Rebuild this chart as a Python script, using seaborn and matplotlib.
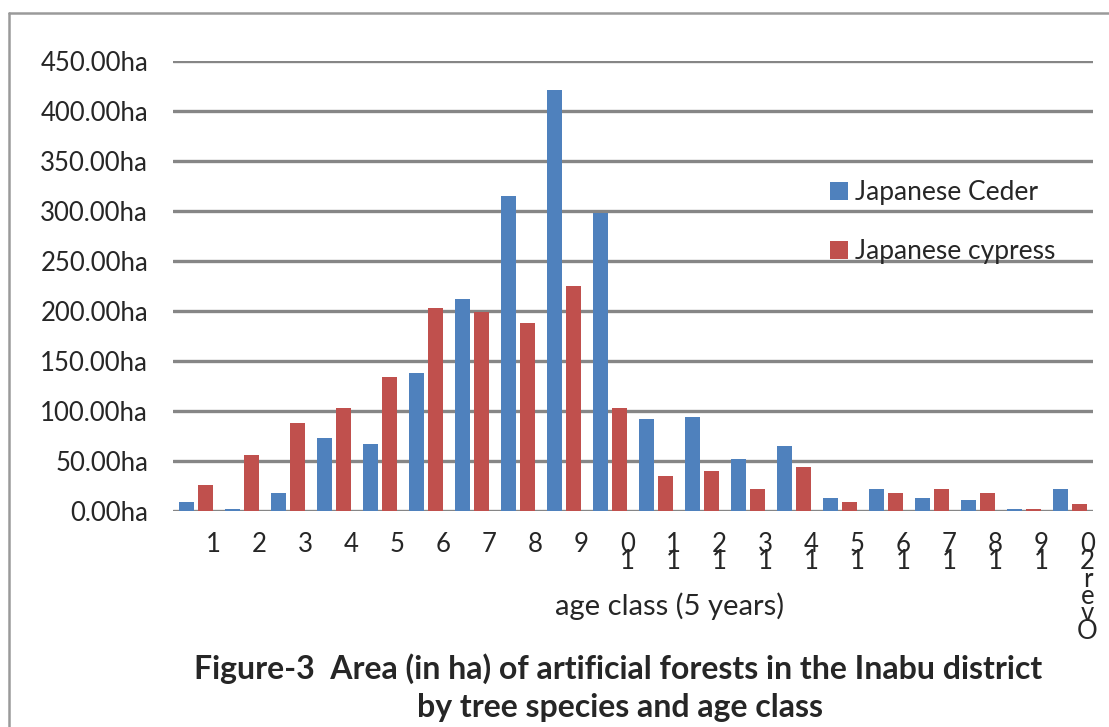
import numpy as np
import pandas as pd
import matplotlib
matplotlib.use("Agg")
import matplotlib.pyplot as plt
import seaborn as sns
from matplotlib.lines import Line2D
from matplotlib.ticker import FuncFormatter

# Data
age_classes = [str(i) for i in range(1, 20)] + ["Over20"]
ceder = [9, 2, 18, 73, 67, 138, 212, 315, 421, 298, 92, 94, 52, 65, 13, 22, 13, 11, 2, 22]
cypress = [26, 56, 88, 103, 134, 203, 199, 188, 225, 103, 35, 40, 22, 44, 9, 18, 22, 18, 2, 7]
species = ["Japanese Ceder", "Japanese cypress"]
colors = ["#4F81BD", "#C0504D"]

df = pd.DataFrame({
    "age": age_classes * 2,
    "species": [species[0]] * len(ceder) + [species[1]] * len(cypress),
    "area": ceder + cypress,
})

sns.set_style("white")
plt.rcParams["font.family"] = ["Lato", "DejaVu Sans"]

W, H = 1109, 727
fig = plt.figure(figsize=(W / 100, H / 100), dpi=100)
ax = fig.add_axes([173 / W, (H - 511) / H, (1093 - 173) / W, 450 / H])

sns.barplot(data=df, x="age", y="area", hue="species", order=age_classes,
            hue_order=species, palette=colors, saturation=1, width=0.84,
            gap=0.22, ax=ax, legend=True, edgecolor="none")

ax.set_ylim(0, 450)
ax.set_xlim(-0.5, len(age_classes) - 0.5)
ax.set_yticks(np.arange(0, 451, 50))
ax.yaxis.set_major_formatter(FuncFormatter(lambda v, p: f"{v:.2f}ha"))
ax.grid(axis="y", color="#868686", linewidth=2.4)
ax.set_axisbelow(True)
for s in ax.spines.values():
    s.set_visible(False)
ax.tick_params(axis="y", length=0, pad=18, labelsize=18.5)

# x tick labels: characters stacked, shifted right like the original
stacked = ["\n".join(reversed(a)) for a in age_classes]
ax.set_xticks(np.arange(len(age_classes)) + 0.38)
ax.set_xticklabels(stacked, linespacing=0.62, va="top")
ax.tick_params(axis="x", length=0, pad=15, labelsize=18.5)
ax.set_xlabel("")
ax.set_ylabel("")

leg = ax.legend(loc="upper left", bbox_to_anchor=(830 / W, (H - 180) / H),
                bbox_transform=fig.transFigure, frameon=False, fontsize=19,
                handlelength=0.7, handleheight=0.7, handletextpad=0.25,
                labelspacing=1.3, borderaxespad=0, borderpad=0)

fig.text(670 / W, (H - 606) / H, "age class (5 years)", ha="center", va="center",
         fontsize=21)
fig.text(618 / W, (H - 669) / H, "Figure-3  Area (in ha) of artificial forests in the Inabu district",
         ha="center", va="center", fontsize=23, fontweight="bold")
fig.text(620 / W, (H - 708) / H, "by tree species and age class",
         ha="center", va="center", fontsize=23, fontweight="bold")

# outer chart frame (partly cropped in the original)
fig.add_artist(Line2D([9 / W, 9 / W], [0, 1 - 13 / H], transform=fig.transFigure,
                      color="#9a9a9a", linewidth=1.8))
fig.add_artist(Line2D([9 / W, 1], [1 - 13 / H, 1 - 13 / H], transform=fig.transFigure,
                      color="#9a9a9a", linewidth=1.8))

fig.savefig("out.png", dpi=100)
